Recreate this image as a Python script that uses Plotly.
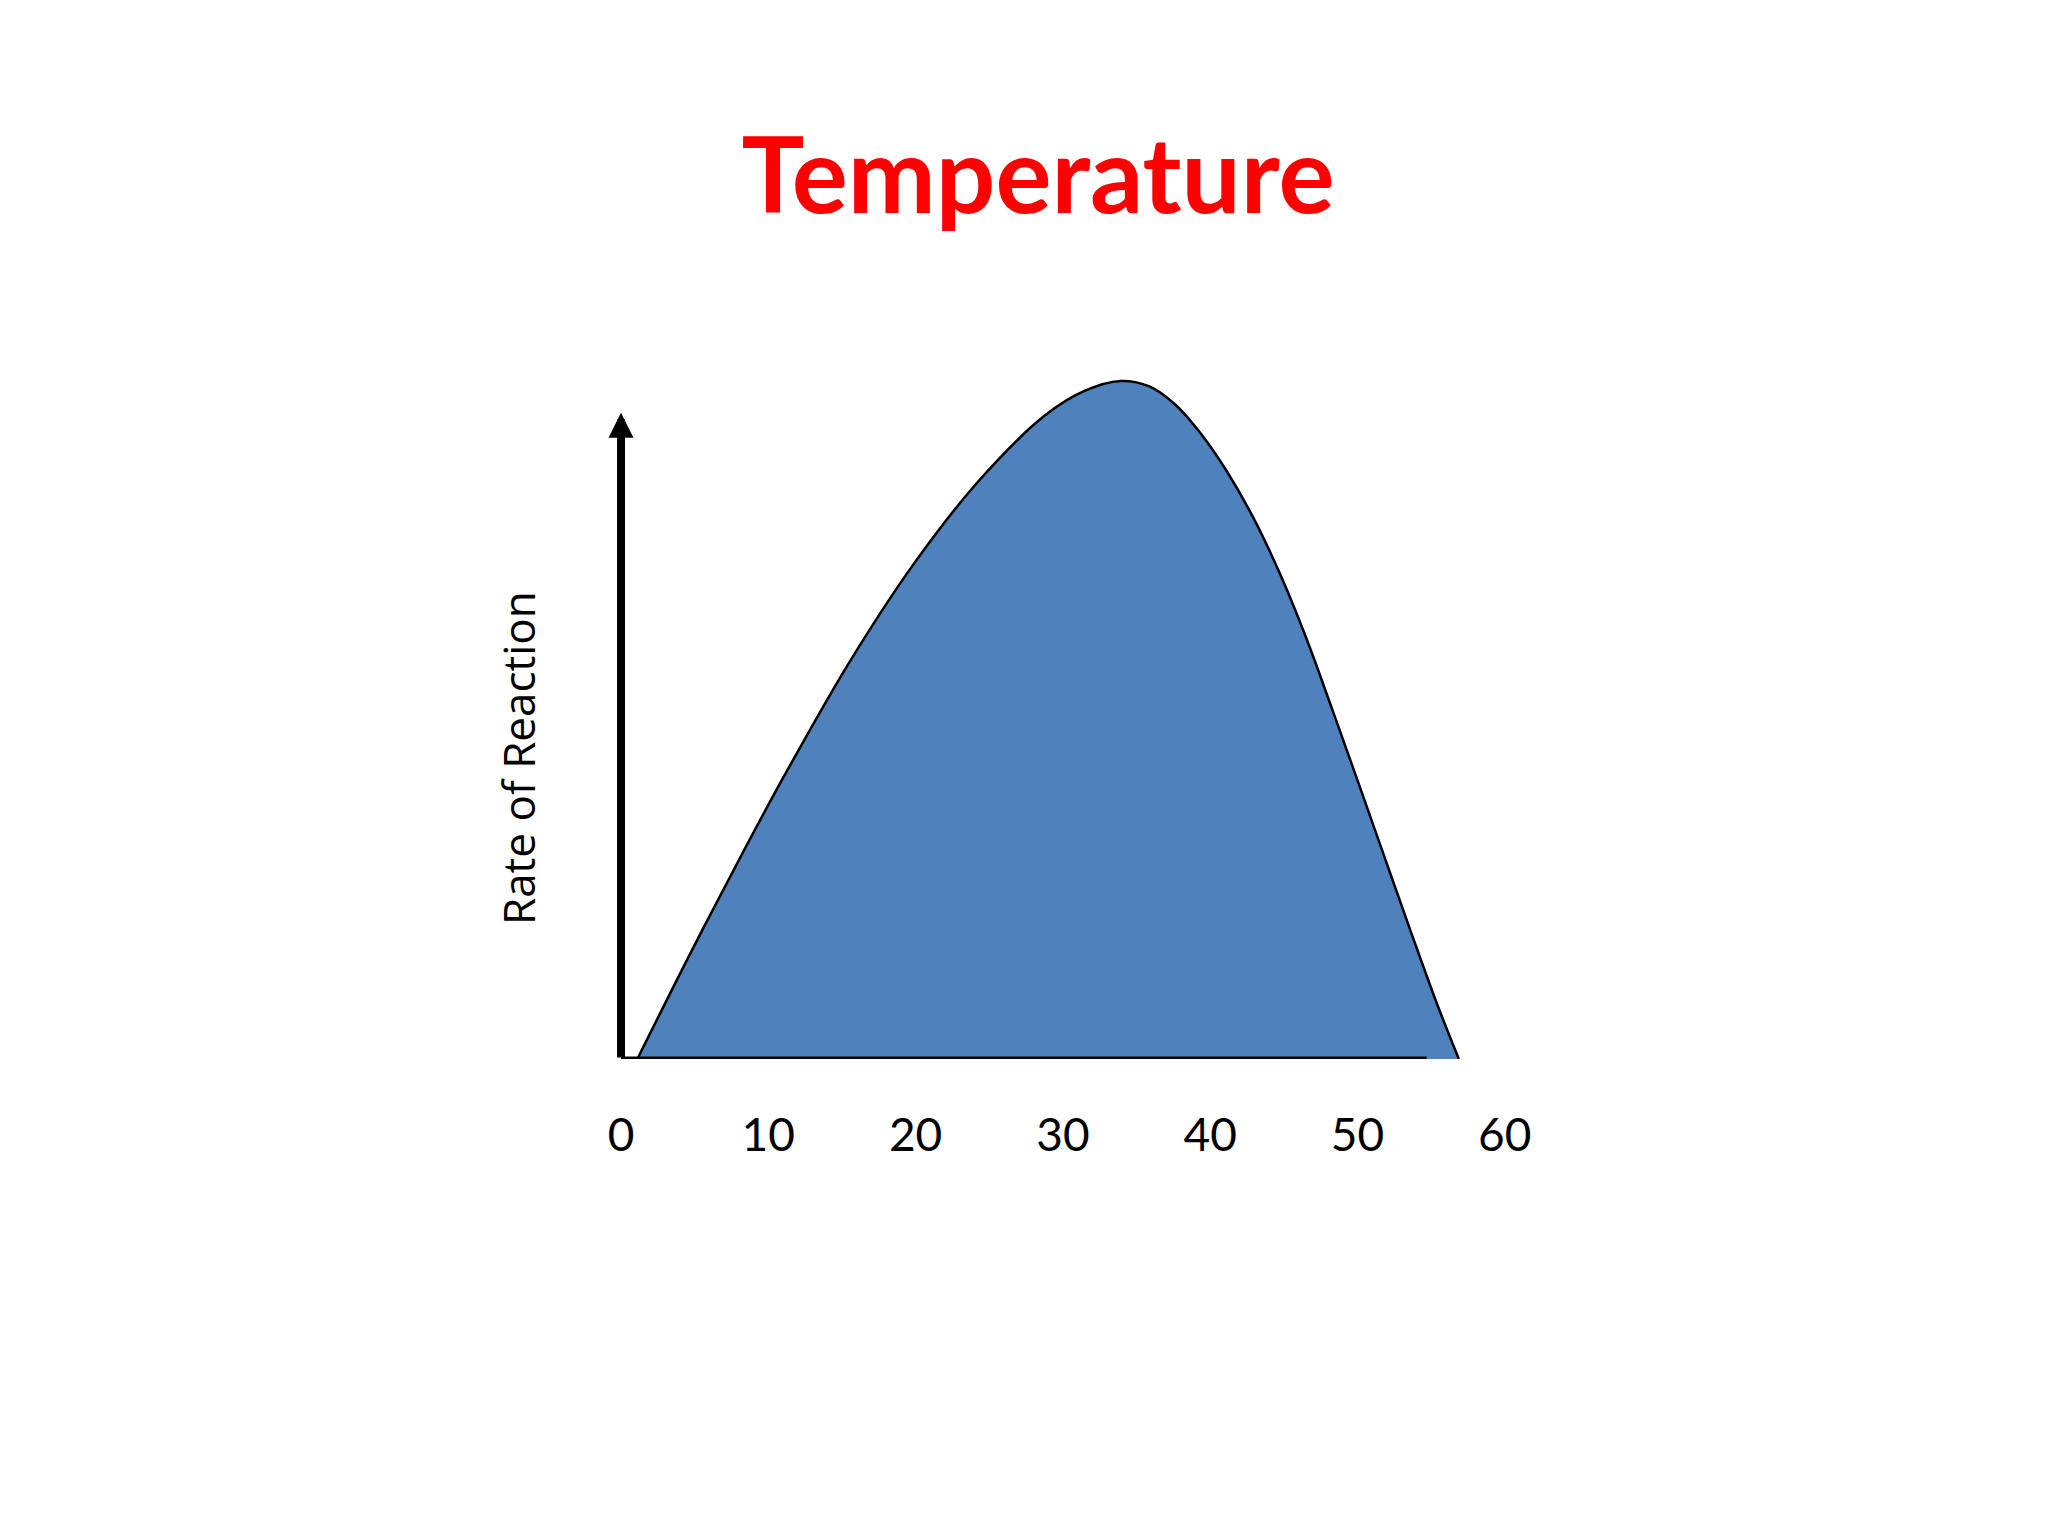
import plotly.graph_objects as go

# ---- data ----
temperature = [1.11, 4.83, 8.38, 11.04, 15.47, 19.90, 24.34, 28.77, 31.43,
               33.91, 35.87, 37.64, 39.41, 41.18, 42.96, 44.73, 46.50,
               48.28, 50.05, 51.83, 53.60, 55.37, 56.88]
rate = [0, 16.1, 30.9, 41.6, 58.4, 73.1, 85.4, 94.9, 98.5,
        100, 99.2, 96.5, 92.1, 86.5, 79.7, 71.6, 62.2,
        51.6, 40.8, 29.8, 18.9, 8.3, 0]
tick_values = [0, 10, 20, 30, 40, 50, 60]
tick_labels = ["0", "10", "20", "30", "40", "50", "60"]
title_text = "Temperature"
y_label = "Rate of Reaction"
x_axis_end = 54.7
y_axis_top = 95.3

W, H = 2048, 1536
FONT = "Lato"

fig = go.Figure()
fig.add_trace(go.Scatter(
    x=temperature, y=rate, mode="lines",
    line=dict(color="black", width=2.5, shape="spline", smoothing=1.0),
    fill="tozeroy", fillcolor="#4F81BD",
    hoverinfo="skip", showlegend=False,
))

# x axis line
fig.add_shape(type="line", xref="x", yref="y", x0=0, x1=x_axis_end, y0=0, y1=0,
              line=dict(color="black", width=5), layer="above")
# y axis arrow
fig.add_annotation(x=0, y=y_axis_top, ax=0, ay=0, xref="x", yref="y",
                   axref="x", ayref="y", showarrow=True, arrowhead=2,
                   arrowwidth=8, arrowsize=0.625, arrowcolor="black", text="")

fig.add_annotation(text=y_label, xref="paper", yref="paper",
                   x=518 / W, y=1 - 758 / H, textangle=-90, showarrow=False,
                   font=dict(family="Open Sans", size=44, color="black"),
                   xanchor="center", yanchor="middle")

x_px0, x_scale = 621, 14.73
y_px0, y_scale = 1059, 6.78

fig.update_layout(
    width=W, height=H,
    margin=dict(l=0, r=0, t=0, b=0),
    paper_bgcolor="white", plot_bgcolor="rgba(0,0,0,0)",
    title=dict(text=title_text, x=1038 / W, y=1 - 176 / H,
               xanchor="center", yanchor="middle",
               font=dict(family=FONT, size=105, color="#FF0000", weight="bold")),
    xaxis=dict(domain=[0, 1],
               range=[-x_px0 / x_scale, (W - x_px0) / x_scale],
               showgrid=False, zeroline=False, showline=False,
               tickmode="array", tickvals=tick_values, ticktext=tick_labels,
               ticks="", ticklabelstandoff=45,
               tickfont=dict(family=FONT, size=46, color="black"),
               fixedrange=True),
    yaxis=dict(domain=[(H - y_px0) / H, 1],
               range=[0, y_px0 / y_scale],
               visible=False, fixedrange=True),
)

fig.write_html("out.html", config={"displayModeBar": False},
               post_script="document.body.style.margin='0';")
